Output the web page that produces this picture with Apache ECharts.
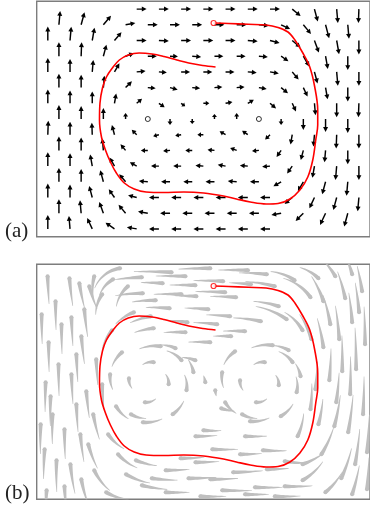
<!DOCTYPE html>
<html><head><meta charset="utf-8">
<script src="https://cdn.jsdelivr.net/npm/echarts@6/dist/echarts.min.js"></script>
<style>html,body{margin:0;padding:0;background:#fff}#c{width:370px;height:507px}</style>
</head><body><div id="c"></div>
<script>
// ---- quiver grid (panel-local units, y measured downward) ----
const xEven = [11.2,33.6,56,78.4,100.8,123.2,145.6,168,190.4,212.8,235.2,257.6,280,302.4,324.8];
const xOdd  = [22.4,44.8,67.2,89.6,112,134.4,156.8,179.2,201.6,224,246.4,268.8,291.2,313.6];
const rowY  = [7.8,23.5,39.2,54.9,70.6,86.3,102,117.7,133.4,149.1,164.8,180.5,196.2,211.9,227.6];
// arrow direction (deg, 0 = right, 90 = up); null = no arrow
const arrowAngle = [
 [null,null,null,null,0,0,0,0,0,0,0,-40,-75,-85,-92],
 [85,75,50,10,0,0,0,0,0,-5,-25,-50,-75,-85],
 [90,85,80,50,0,-3,0,0,0,-5,-15,-40,-70,-80,-90],
 [90,88,75,20,0,-3,-5,0,0,-5,-35,-60,-80,-90],
 [90,90,85,60,5,-5,0,0,0,-5,-10,-50,-75,-85,-90],
 [90,90,85,45,-5,-15,-5,5,5,-10,-40,-65,-80,-90],
 [90,90,90,80,40,-35,-35,0,10,30,-40,-65,-85,-90,-92],
 [90,90,90,90,null,-90,-90,90,90,null,-90,-90,-90,-90],
 [88,90,92,105,135,195,190,180,150,145,225,-100,-95,-92,-90],
 [90,90,95,130,180,185,180,175,160,185,235,255,265,270],
 [90,90,100,120,150,180,180,175,170,175,185,235,260,265,270],
 [90,90,105,130,175,180,180,180,175,180,210,240,255,265],
 [90,90,105,125,165,180,180,180,180,180,180,220,245,255,265],
 [90,95,110,130,170,180,180,180,180,180,190,225,245,255],
 [90,95,115,145,170,180,180,180,180,180,180,null,null,null,null]
];
const arrowLen = [
 [0,0,0,0,10,10,10,10,10,10,10,11,13,14,14],
 [14,13,12,10,10,10,10,10,10,10,10,12,14,14],
 [14,14,13,11,10,10,10,10,10,10,10,11,13,14,14],
 [14,14,12,9,9,8,9,9,9,9,9,12,13,14],
 [14,13,12,10,9,8,9,9,9,9,9,10,12,14,14],
 [14,13,12,9,8,8,8,8,8,8,9,10,12,14],
 [14,13,12,10,7,7,5,6,7,7,8,9,12,14,14],
 [14,13,11,6,0,6,5,5,6,0,6,11,13,14],
 [14,13,12,10,7,6,6,6,7,7,7,10,12,14,14],
 [14,13,12,8,7,7,7,7,7,7,8,10,12,14],
 [14,13,12,10,8,8,8,8,8,8,8,9,12,14,14],
 [14,13,12,10,9,9,9,9,9,9,9,11,13,14],
 [14,13,12,10,9,10,10,10,10,10,10,10,12,13,14],
 [14,13,12,11,10,10,10,10,10,10,10,11,13,14],
 [14,13,12,11,10,10,10,10,10,10,10,0,0,0,0]
];
const stagnation = [[112,117.7],[224,117.7]];
// ---- red trajectory ----
const pathX = [178.3,193.3,213.3,231.3,243.3,253.3,260.3,268.3,275.3,280.3,283.3,283.3,281.3,278.3,273.3,265.3,255.3,243.3,231.3,215.3,201.3,188.3,168.3,148.3,128.3,110.3,98.3,88.3,80.3,74.3,69.3,65.3,63.3,63.8,66.3,70.3,76.3,83.3,92.3,103.3,116.3,128.3,141.3,153.3,167.3,180.3];
const pathY = [21.7,22.2,23,23.7,26.2,30.7,38.7,51.7,65.7,85.7,108.7,123.7,138.7,158.7,175.7,188.7,197.7,202.2,202.7,200.7,197.7,194.7,191.7,190.7,191.2,190.7,187.7,181.7,171.7,160.7,148.7,135.7,118.7,101.7,86.7,75.7,66.7,58.7,53.7,51.7,52.7,55.2,58.7,61.7,64.2,65.7];
// ---- panel (b) streaks: [headX, headY, headAngle, length, bend] ----
const streaks = [
 // top-left corner and top band
 [84,4,8,34,60],[77,15,30,22,40],[66,30,55,22,35],[106,13,2,28,6],[136,8,-3,38,4],[127,19,-4,22,4],
 [107,29,0,28,10],[134,44,-5,24,6],[175,4,0,32,3],[213,6,-2,30,3],[188,17,-3,30,3],[160,21,-2,26,3],
 [216,20,-6,22,4],[240,22,-15,30,12],[161,32,-3,22,3],[201,33,-4,26,4],[173,45,-5,24,4],[195,52,-6,24,5],
 [226,57,-12,28,10],[152,58,-8,20,6],[98,48,20,22,25],[118,64,5,20,15],[150,12,-2,30,3],[190,28,-3,30,3],
 [232,10,-6,28,6],[120,36,0,24,8],[146,30,-2,28,4],[182,60,-7,24,6],[244,42,-18,26,14],[115,52,10,22,15],
 [92,22,40,24,40],[58,12,75,22,25],
 // top-right corner
 [260,16,-35,26,30],[276,33,-55,34,40],[252,55,-35,34,25],[289,37,-72,28,15],[311,34,-78,28,8],
 [328,27,-82,26,6],[301,12,-60,22,15],[268,66,-60,26,30],[318,10,-75,20,10],[284,14,-45,22,30],
 // right band
 [277,75,-72,28,15],[289,83,-82,30,8],[305,75,-86,34,5],[318,58,-86,30,5],[322,105,-90,42,3],
 [308,107,-91,36,3],[295,116,-95,32,4],[281,125,-97,28,6],[329,150,-93,38,3],[314,168,-100,38,5],
 [300,162,-105,32,8],[287,190,-122,30,15],[321,200,-100,36,5],[307,214,-115,32,12],[333,225,-95,32,3],
 [268,216,-150,28,25],[291,228,-140,26,20],[276,145,-97,26,8],[263,172,-115,24,20],[296,60,-80,30,8],
 [331,80,-90,38,3],[316,130,-92,38,3],[302,138,-98,30,5],[333,188,-95,38,3],[318,230,-108,30,8],
 [284,160,-105,26,10],[325,48,-85,30,5],
 // bottom band
 [250,222,178,28,6],[220,223,178,28,4],[187,226,178,30,3],[153,214,180,28,4],[198,208,181,30,4],
 [228,186,176,24,6],[177,185,178,26,4],[130,206,180,24,5],[130,228,178,24,4],[106,221,165,26,12],
 [90,210,150,26,20],[82,190,132,24,25],[100,196,158,22,15],[250,197,170,24,12],[160,198,180,24,4],
 [232,205,180,22,5],[205,190,180,22,4],[160,172,180,22,4],[210,172,178,22,5],[240,232,178,26,5],
 [175,215,180,28,4],[116,214,172,26,8],[145,194,180,24,5],[268,200,-160,24,15],[165,232,178,26,4],
 [210,230,178,24,4],
 // bottom-left corner and left band
 [58,206,115,26,25],[70,228,150,24,25],[45,215,100,28,12],[11,12,92,28,2],[33,14,95,28,4],
 [43,19,99,26,6],[53,22,105,24,8],[19,37,90,29,2],[25,60,90,30,2],[35,53,92,29,2],[12,78,90,30,2],
 [45,72,95,28,3],[22,100,90,32,2],[9,118,88,30,2],[35,110,92,30,2],[50,127,95,27,3],[16,150,88,30,3],
 [28,165,90,30,3],[44,170,95,28,5],[8,185,86,30,4],[20,196,88,32,5],[34,200,95,30,8],[57,150,100,26,8],
 [60,95,92,26,3],[10,226,86,24,5],[5,50,90,30,2],[14,132,88,30,3],[40,140,92,28,3],[4,160,88,30,3],
 [48,45,95,28,4],[28,222,92,26,8],[40,90,92,28,2],[52,180,105,26,12],[66,120,92,24,4],
 // left vortex (centre 112,118)
 [125,82,-8,22,30],[146,96,-50,18,35],[151,126,-100,16,35],[137,150,-145,18,30],[107,158,175,20,30],
 [80,142,120,18,30],[74,110,85,16,30],[86,88,40,18,30],[118,98,-10,12,45],[133,120,-95,11,45],
 [109,138,175,12,45],[93,114,85,11,45],[140,84,-25,16,25],[95,150,150,16,30],[158,108,-80,14,25],
 // right vortex (centre 224,118)
 [238,81,-8,22,30],[258,98,-55,18,35],[262,128,-105,16,35],[246,152,-150,18,30],[215,157,175,20,30],
 [190,138,120,16,30],[187,108,80,16,30],[200,87,35,18,30],[230,98,-10,12,45],[244,121,-95,11,45],
 [221,138,175,12,45],[205,116,85,11,45],[254,86,-30,16,25],[207,150,150,16,30],[266,112,-80,14,25],
 // middle
 [175,78,-3,22,5],[170,118,-80,7,10],[180,126,95,6,10],[160,96,-20,14,15],[186,144,160,14,15],
 [150,68,-2,22,5],[210,67,-3,22,5],[76,66,50,22,25],[72,170,125,22,25],[168,166,175,18,8],[196,72,-3,18,5]
];

const ARROW_SCALE = 1.0, GRAY = '#bfbfbf', W_HEAD = 4, W_TAIL = 0.6;
const arrowData = [];
rowY.forEach((y, k) => {
  const xs = k % 2 === 0 ? xEven : xOdd;
  xs.forEach((x, j) => {
    const a = arrowAngle[k][j];
    if (a === null) return;
    arrowData.push([x, y, a, arrowLen[k][j]]);
  });
});
const pathData = pathX.map((x, i) => [x, pathY[i]]);

function arrowItem(params, api) {
  const p = api.coord([api.value(0), api.value(1)]);
  const a = api.value(2) * Math.PI / 180;
  const L = api.value(3) * api.size([1, 1])[0] * ARROW_SCALE;
  const dx = Math.cos(a), dy = -Math.sin(a);
  const tip = [p[0] + dx * L, p[1] + dy * L];
  const hl = Math.min(4.8, L * 0.6), hw = 2.5;
  const b = [tip[0] - dx * hl, tip[1] - dy * hl];
  const nx = -dy, ny = dx;
  return {type: 'group', children: [
    {type: 'line', shape: {x1: p[0], y1: p[1], x2: b[0] + dx * 0.8, y2: b[1] + dy * 0.8},
     style: {stroke: '#000', lineWidth: 1.45}},
    {type: 'polygon', shape: {points: [tip, [b[0] + nx * hw, b[1] + ny * hw], [b[0] - nx * hw, b[1] - ny * hw]]},
     style: {fill: '#000'}}
  ]};
}
function streakItem(params, api) {
  const head = api.coord([api.value(0), api.value(1)]);
  const ang = api.value(2), bend = api.value(4);
  const L = api.value(3) * api.size([1, 1])[0];
  const N = 12, pts = [head];
  let x = head[0], y = head[1];
  for (let i = 1; i <= N; i++) {
    const t = (i - 0.5) / N;
    const a = (ang + bend * t) * Math.PI / 180;
    x -= Math.cos(a) * L / N; y += Math.sin(a) * L / N;
    pts.push([x, y]);
  }
  const left = [], right = [];
  for (let i = 0; i <= N; i++) {
    const t = i / N;
    const w = (W_HEAD * (1 - t) + W_TAIL * t) / 2;
    const p0 = pts[Math.max(0, i - 1)], p1 = pts[Math.min(N, i + 1)];
    let tx = p1[0] - p0[0], ty = p1[1] - p0[1];
    const n = Math.hypot(tx, ty) || 1; tx /= n; ty /= n;
    left.push([pts[i][0] - ty * w, pts[i][1] + tx * w]);
    right.push([pts[i][0] + ty * w, pts[i][1] - tx * w]);
  }
  return {type: 'group', children: [
    {type: 'polygon', shape: {points: left.concat(right.reverse())}, style: {fill: GRAY}},
    {type: 'circle', shape: {cx: head[0], cy: head[1], r: W_HEAD / 2}, style: {fill: GRAY}}
  ]};
}

const chart = echarts.init(document.getElementById('c'), null, {renderer: 'canvas'});
const gridStyle = {show: true, borderColor: '#7d7d7d', borderWidth: 1.4, backgroundColor: '#fff'};
const axX = i => ({type: 'value', gridIndex: i, min: 0, max: 336, show: false});
const axY = (i, m) => ({type: 'value', gridIndex: i, min: 0, max: m, inverse: true, show: false});
const redLine = i => ({type: 'line', xAxisIndex: i, yAxisIndex: i, data: pathData, smooth: 0.35,
  showSymbol: false, symbol: 'none', lineStyle: {color: '#ff0000', width: 1.6}, z: 5, silent: true});
const redStart = i => ({type: 'scatter', xAxisIndex: i, yAxisIndex: i, data: [pathData[0]], symbol: 'circle',
  symbolSize: 5, itemStyle: {color: '#fff', borderColor: '#ff0000', borderWidth: 1.2}, z: 6, silent: true});
const labelStyle = t => ({text: t, font: '21px "Liberation Serif", "Times New Roman", serif', fill: '#222'});
chart.setOption({
  animation: false,
  backgroundColor: '#fff',
  grid: [
    Object.assign({left: 36.7, top: 1.3, width: 336, height: 235.4}, gridStyle),
    Object.assign({left: 36.7, top: 264.3, width: 336, height: 235}, gridStyle)
  ],
  xAxis: [axX(0), axX(1)],
  yAxis: [axY(0, 235.4), axY(1, 235)],
  graphic: [
    {type: 'text', left: 5, top: 221, style: labelStyle('(a)')},
    {type: 'text', left: 5, top: 483, style: labelStyle('(b)')}
  ],
  series: [
    {type: 'custom', xAxisIndex: 0, yAxisIndex: 0, renderItem: arrowItem, data: arrowData, clip: true, silent: true, z: 2},
    {type: 'scatter', xAxisIndex: 0, yAxisIndex: 0, data: stagnation, symbol: 'circle', symbolSize: 5,
     itemStyle: {color: '#fff', borderColor: '#000', borderWidth: 1}, z: 3, silent: true},
    redLine(0), redStart(0),
    {type: 'custom', xAxisIndex: 1, yAxisIndex: 1, renderItem: streakItem, data: streaks, clip: true, silent: true, z: 2},
    redLine(1), redStart(1)
  ]
});
</script></body></html>
